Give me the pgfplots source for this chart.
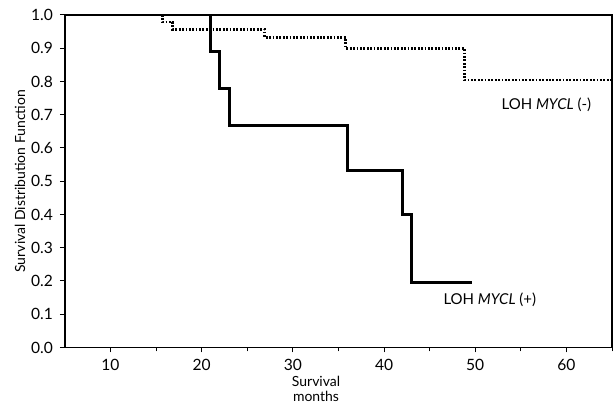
\documentclass[border=0pt]{standalone}
\usepackage{fontspec}
\setmainfont{Lato}
\usepackage{pgfplots}
\pgfplotsset{compat=1.18}
\usetikzlibrary{calc}

\begin{document}
\begin{tikzpicture}
\begin{axis}[scale only axis, width=274pt, height=166.5pt,
  xmin=5, xmax=65, ymin=0, ymax=1,
  xtick={10,20,...,60}, minor xtick={15,25,...,65},
  ytick={0,0.1,...,1.0},
  yticklabel style={/pgf/number format/fixed, /pgf/number format/fixed zerofill, /pgf/number format/precision=1},
  /pgf/number format/assume math mode=true,
  tick align=outside, tick pos=left,
  major tick length=2.5pt, minor tick length=2pt,
  tick style={black, line width=0.5pt},
  axis line style={line width=0.7pt},
  ticklabel style={font=\fontsize{7.8}{8}\selectfont},
  xlabel={Survival\\months},
  xlabel style={at={(axis description cs:0.459,0)}, anchor=north, yshift=-14pt, align=center, inner sep=0pt, font=\fontsize{7}{7.5}\selectfont},
  ylabel={Survival Distribution Function},
  ylabel style={at={(axis description cs:-0.082,0.5)}, anchor=center, inner sep=0pt, font=\fontsize{7}{8}\selectfont},
  clip=false,
]
% LOH MYCL (+)
\addplot[const plot, black, line width=1.5pt] coordinates {
  (21,1) (21,0.8889) (22,0.7778) (23,0.6667) (36,0.5333) (42,0.4) (43,0.196) (49.7,0.196)
};
% LOH MYCL (-)
\addplot[const plot, black, line width=1.3pt, dash pattern=on 0.9pt off 0.8pt] coordinates {
  (15.7,1) (15.7,0.979) (16.8,0.957) (26.9,0.933) (35.8,0.90) (48.8,0.805) (65,0.805)
};
\node[font=\fontsize{7.5}{8}\selectfont] at (axis cs:57.8,0.73) {LOH \textit{MYCL} (-)};
\node[font=\fontsize{7.5}{8}\selectfont] at (axis cs:51.6,0.144) {LOH \textit{MYCL} (+)};
\end{axis}
\pgfresetboundingbox
\path[use as bounding box] ($(current axis.south west)+(-32.5pt,-27.5pt)$) rectangle ($(current axis.north east)+(0.5pt,7.5pt)$);
\end{tikzpicture}
\end{document}
